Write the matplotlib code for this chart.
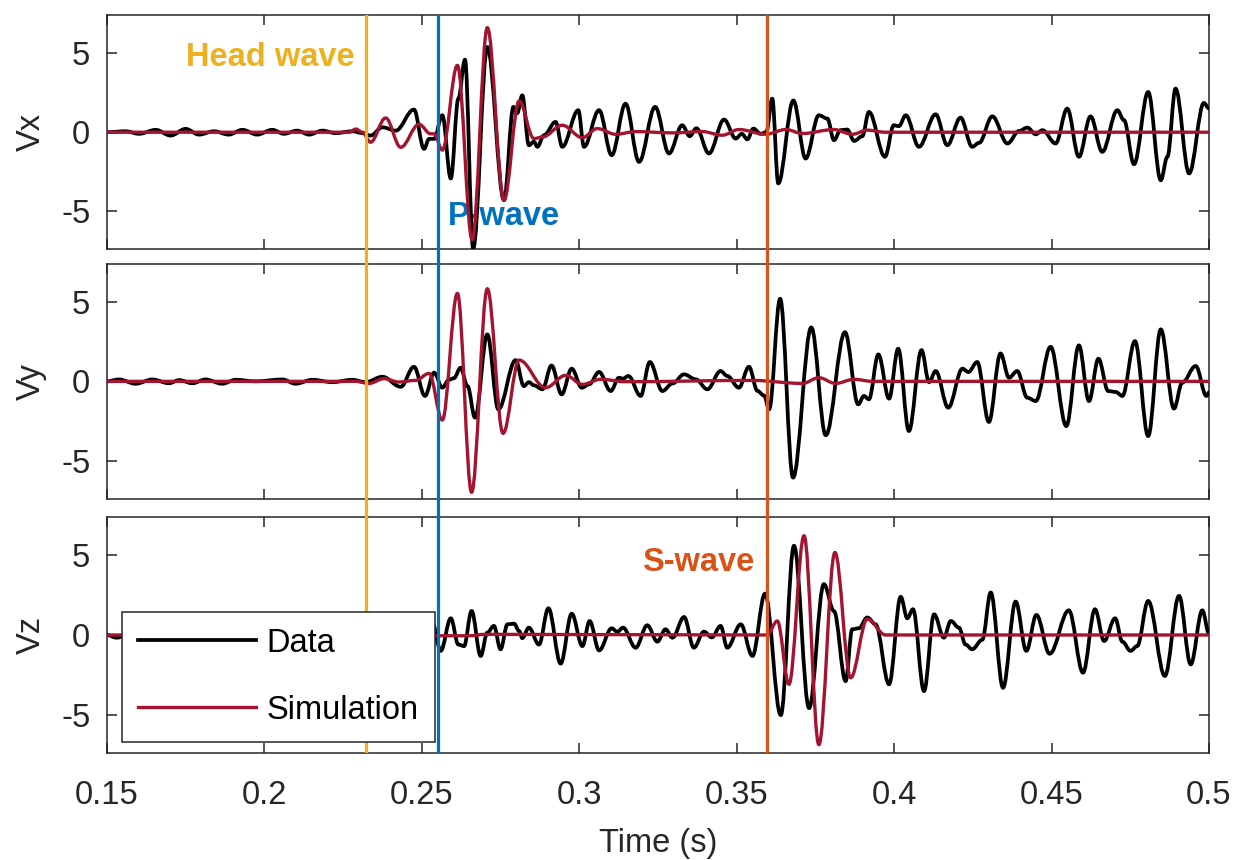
import matplotlib
matplotlib.use("Agg")
import matplotlib.pyplot as plt
from matplotlib.path import Path
from matplotlib.patches import PathPatch
from matplotlib.lines import Line2D
from matplotlib import transforms

plt.rcParams['font.family'] = ['Liberation Sans', 'DejaVu Sans']
plt.rcParams['axes.unicode_minus'] = False

# picked extrema (time in s, velocity) of each trace
vx_data_t = [0.1500, 0.1559, 0.1602, 0.1655, 0.1702, 0.1750, 0.1792, 0.1840, 0.1887, 0.1930,
             0.1977, 0.2025, 0.2062, 0.2104, 0.2142, 0.2184, 0.2226, 0.2279, 0.2311, 0.2337,
             0.2375, 0.2417, 0.2475, 0.2507, 0.2523, 0.2539, 0.2565, 0.2592, 0.2616, 0.2637,
             0.2663, 0.2708, 0.2761, 0.2791, 0.2803, 0.2819, 0.2840, 0.2856, 0.2867, 0.2888,
             0.2925, 0.2946, 0.2997, 0.3015, 0.3063, 0.3103, 0.3147, 0.3190, 0.3241, 0.3285,
             0.3327, 0.3351, 0.3372, 0.3412, 0.3460, 0.3497, 0.3516, 0.3534, 0.3553, 0.3576,
             0.3594, 0.3613, 0.3632, 0.3680, 0.3719, 0.3761, 0.3788, 0.3809, 0.3830, 0.3851,
             0.3873, 0.3899, 0.3920, 0.3971, 0.3999, 0.4015, 0.4037, 0.4079, 0.4132, 0.4169,
             0.4211, 0.4248, 0.4270, 0.4312, 0.4360, 0.4397, 0.4423, 0.4450, 0.4471, 0.4513,
             0.4550, 0.4587, 0.4624, 0.4661, 0.4709, 0.4730, 0.4762, 0.4807, 0.4847, 0.4868,
             0.4894, 0.4937, 0.4984, 0.5000]
vx_data_v = [0.00, 0.06, -0.10, 0.15, -0.21, 0.21, -0.15, 0.06, -0.15, 0.15,
             -0.15, 0.15, -0.10, 0.10, -0.15, 0.10, -0.06, 0.06, -0.05, -0.21,
             0.31, 0.10, 1.43, -1.05, -0.42, -0.42, 1.07, -2.92, 2.12, 4.58,
             -7.33, 5.38, -4.29, 1.60, 1.20, 2.33, -0.82, -0.60, -0.92, -0.19,
             0.65, -0.92, 1.39, -0.92, 1.39, -1.45, 1.80, -1.87, 1.60, -1.34,
             0.44, -0.25, 0.25, -1.34, 0.80, -0.40, -0.10, -0.45, 0.23, -0.10,
             0.00, 2.12, -3.23, 2.00, -1.66, 1.07, 0.86, -0.50, 0.13, 0.17,
             -0.55, -0.25, 1.28, -1.55, 0.44, 0.38, 1.07, -0.92, 1.13, -0.82,
             0.92, -0.92, -0.67, 1.00, -0.71, 0.08, 0.29, -0.13, 0.13, -0.71,
             1.49, -1.55, 1.00, -1.24, 1.39, 0.76, -2.02, 2.54, -3.03, -1.55,
             2.75, -2.60, 1.85, 1.50]
vx_sim_t = [0.1500, 0.2270, 0.2290, 0.2311, 0.2337, 0.2385, 0.2433, 0.2491, 0.2528, 0.2539,
            0.2565, 0.2613, 0.2660, 0.2708, 0.2761, 0.2809, 0.2856, 0.2883, 0.2946, 0.3010,
            0.3057, 0.3116, 0.3179, 0.3296, 0.3391, 0.3454, 0.3507, 0.3592, 0.3656, 0.3709,
            0.3809, 0.3867, 0.3915, 0.3973, 0.5000]
vx_sim_v = [0.00, 0.00, 0.20, 0.00, -0.63, 0.90, -0.95, 0.50, -0.10, -0.10,
            -1.13, 4.22, -6.80, 6.60, -4.29, 1.97, -0.40, -0.30, 0.44, -0.34,
            0.23, -0.13, 0.04, -0.04, 0.04, -0.19, 0.17, -0.13, 0.17, -0.08,
            0.17, -0.13, 0.13, 0.00, 0.00]

vy_data_t = [0.1500, 0.1538, 0.1591, 0.1644, 0.1697, 0.1729, 0.1771, 0.1813, 0.1866, 0.1909,
             0.1972, 0.2057, 0.2099, 0.2152, 0.2216, 0.2279, 0.2321, 0.2375, 0.2433, 0.2475,
             0.2510, 0.2539, 0.2565, 0.2586, 0.2602, 0.2623, 0.2645, 0.2669, 0.2708, 0.2743,
             0.2798, 0.2824, 0.2840, 0.2856, 0.2883, 0.2912, 0.2944, 0.2976, 0.3008, 0.3031,
             0.3063, 0.3100, 0.3126, 0.3139, 0.3156, 0.3195, 0.3224, 0.3264, 0.3296, 0.3333,
             0.3370, 0.3407, 0.3449, 0.3470, 0.3507, 0.3539, 0.3566, 0.3587, 0.3603, 0.3638,
             0.3679, 0.3737, 0.3783, 0.3844, 0.3886, 0.3904, 0.3920, 0.3950, 0.3984, 0.4013,
             0.4047, 0.4087, 0.4111, 0.4132, 0.4172, 0.4217, 0.4236, 0.4264, 0.4301, 0.4338,
             0.4365, 0.4391, 0.4423, 0.4450, 0.4497, 0.4547, 0.4587, 0.4619, 0.4649, 0.4680,
             0.4704, 0.4725, 0.4765, 0.4807, 0.4847, 0.4889, 0.4915, 0.4958, 0.4992, 0.5000]
vy_data_v = [0.00, 0.12, -0.15, 0.12, -0.12, 0.08, -0.12, 0.12, -0.15, 0.10,
             0.00, 0.12, -0.15, 0.10, -0.05, 0.10, -0.05, 0.29, -0.34, 0.92,
             -0.92, 0.55, -0.40, 0.10, 0.20, 0.86, -0.30, -2.29, 2.96, -1.76,
             1.34, -0.30, -0.05, -0.25, -0.50, 1.00, -0.82, 0.80, -0.40, -0.19,
             0.59, -0.61, 0.23, 0.17, 0.34, -0.92, 1.22, -0.61, -0.13, 0.44,
             0.13, -0.50, 0.65, 0.34, -0.40, 0.92, -0.60, -0.90, -1.76, 5.21,
             -6.07, 3.40, -3.40, 3.10, -1.45, -0.92, -1.13, 1.70, -1.09, 2.06,
             -3.13, 1.97, -0.05, 0.65, -1.66, 0.80, 0.59, 1.22, -2.56, 1.76,
             0.23, 0.65, -1.03, -1.24, 2.18, -2.82, 2.27, -1.24, 1.43, -0.61,
             -0.67, -0.92, 2.54, -3.45, 3.28, -1.72, -0.08, 0.97, -0.92, -0.70]
vy_sim_t = [0.1500, 0.2290, 0.2332, 0.2380, 0.2427, 0.2480, 0.2523, 0.2565, 0.2613, 0.2658,
            0.2708, 0.2758, 0.2809, 0.2893, 0.2957, 0.3010, 0.3068, 0.3147, 0.3550, 0.3709,
            0.3761, 0.3814, 0.3873, 0.3931, 0.5000]
vy_sim_v = [0.00, 0.00, -0.13, 0.17, -0.04, 0.06, 0.50, -2.44, 5.55, -7.00,
            5.84, -3.28, 1.34, -0.40, 0.38, -0.19, 0.13, -0.02, 0.06, -0.13,
            0.23, -0.13, 0.13, 0.00, 0.00]

vz_data_t = [0.1500, 0.1530, 0.1580, 0.1630, 0.1700, 0.1800, 0.1900, 0.2000, 0.2100, 0.2200,
             0.2300, 0.2375, 0.2430, 0.2475, 0.2507, 0.2533, 0.2560, 0.2592, 0.2616, 0.2634,
             0.2658, 0.2687, 0.2708, 0.2729, 0.2750, 0.2772, 0.2793, 0.2809, 0.2819, 0.2840,
             0.2872, 0.2902, 0.2941, 0.2976, 0.3010, 0.3033, 0.3063, 0.3103, 0.3121, 0.3139,
             0.3179, 0.3216, 0.3248, 0.3274, 0.3296, 0.3333, 0.3364, 0.3396, 0.3421, 0.3449,
             0.3470, 0.3513, 0.3550, 0.3590, 0.3640, 0.3682, 0.3730, 0.3777, 0.3809, 0.3846,
             0.3867, 0.3888, 0.3915, 0.3941, 0.3984, 0.4021, 0.4042, 0.4060, 0.4095, 0.4127,
             0.4158, 0.4180, 0.4206, 0.4227, 0.4248, 0.4280, 0.4307, 0.4346, 0.4386, 0.4420,
             0.4452, 0.4494, 0.4555, 0.4600, 0.4638, 0.4667, 0.4702, 0.4725, 0.4751, 0.4772,
             0.4807, 0.4860, 0.4905, 0.4942, 0.4979, 0.5000]
vz_data_v = [0.00, -0.17, 0.10, -0.10, 0.10, -0.10, 0.10, -0.10, 0.10, -0.10,
             0.10, 0.30, -0.40, 0.80, -0.60, 0.80, -1.00, 1.05, -0.60, -0.70,
             1.51, -1.32, 0.15, 0.57, -0.90, 0.67, 0.71, 0.25, -0.20, 0.46,
             -0.60, 1.68, -1.80, 1.34, -0.70, 0.88, -0.97, 0.42, 0.20, 0.46,
             -0.80, 0.61, -0.42, 0.36, -0.17, 1.13, -0.80, 0.21, -0.15, 0.57,
             -0.80, 0.67, -1.32, 2.60, -5.04, 5.61, -4.60, 3.20, 1.50, -2.90,
             0.36, 0.42, 1.10, 0.67, -3.10, 2.40, 1.05, 1.62, -3.53, 1.30,
             -0.17, 0.88, 0.46, -0.60, -0.90, -0.30, 2.67, -3.32, 2.10, -1.00,
             1.26, -1.18, 1.55, -2.37, 1.62, -0.38, 1.05, -0.42, -1.00, -0.70,
             2.14, -2.58, 2.46, -1.85, 1.55, 0.10]
vz_sim_t = [0.1500, 0.2650, 0.2700, 0.3597, 0.3629, 0.3666, 0.3714, 0.3761, 0.3812, 0.3862,
            0.3915, 0.3973, 0.5000]
vz_sim_v = [0.00, -0.05, 0.04, 0.00, 0.88, -3.10, 6.24, -6.90, 5.19, -2.69,
            1.00, 0.00, 0.00]

# arrival picks
pick_names = ['Head wave', 'P-wave', 'S-wave']
pick_times = [0.2322, 0.2552, 0.3597]
pick_colors = ['#EDB120', '#0072BD', '#D95319']

components = ['Vx', 'Vy', 'Vz']
data_t = [vx_data_t, vy_data_t, vz_data_t]
data_v = [vx_data_v, vy_data_v, vz_data_v]
sim_t = [vx_sim_t, vy_sim_t, vz_sim_t]
sim_v = [vx_sim_v, vy_sim_v, vz_sim_v]

xticks = [0.15, 0.2, 0.25, 0.3, 0.35, 0.4, 0.45, 0.5]
xticklabels = ['0.15', '0.2', '0.25', '0.3', '0.35', '0.4', '0.45', '0.5']

DATA_C = 'black'
SIM_C = '#A2142F'
AX_C = '#262626'
FS = 23.5


def draw_trace(ax, t, v, color, lw, z):
    # smooth curve through the picked extrema (flat tangent at each pick)
    verts = [(t[0], v[0])]
    codes = [Path.MOVETO]
    for i in range(1, len(t)):
        h = 0.364 * (t[i] - t[i - 1])
        verts += [(t[i - 1] + h, v[i - 1]), (t[i] - h, v[i]), (t[i], v[i])]
        codes += [Path.CURVE4] * 3
    ax.add_patch(PathPatch(Path(verts, codes), fill=False, edgecolor=color,
                           lw=lw, zorder=z, capstyle='round', joinstyle='round'))


fig = plt.figure(figsize=(12.34, 8.6), dpi=100)
boxes = [[0.0867, 0.7099, 0.8930, 0.2727],
         [0.0867, 0.4201, 0.8930, 0.2729],
         [0.0867, 0.1248, 0.8930, 0.2737]]
axes = []
for k, box in enumerate(boxes):
    ax = fig.add_axes(box)
    draw_trace(ax, data_t[k], data_v[k], DATA_C, 2.7, 3)
    draw_trace(ax, sim_t[k], sim_v[k], SIM_C, 2.4, 4)
    for tp, c in zip(pick_times, pick_colors):
        ax.axvline(tp, color=c, lw=2.3, zorder=5)
    ax.set_xlim(0.15, 0.5)
    ax.set_ylim(-7.4, 7.4)
    ax.set_xticks(xticks)
    ax.set_yticks([-5, 0, 5])
    ax.set_yticklabels(['-5', '0', '5'])
    if k == 2:
        ax.set_xticklabels(xticklabels)
        ax.set_xlabel('Time (s)', fontsize=FS, color=AX_C, labelpad=12)
    else:
        ax.set_xticklabels([])
    ax.set_ylabel(components[k], fontsize=FS, color=AX_C, labelpad=10)
    ax.tick_params(direction='in', top=True, right=True, length=7, width=1.1,
                   labelsize=FS, colors=AX_C, pad=12)
    ax.tick_params(axis='x', pad=20)
    for s in ax.spines.values():
        s.set_color(AX_C)
        s.set_linewidth(1.1)
    axes.append(ax)

# carry the pick lines across the gaps between panels
for upper, lower in zip(axes[:-1], axes[1:]):
    y0 = lower.get_position().y1
    y1 = upper.get_position().y0
    tr = transforms.blended_transform_factory(upper.transData, fig.transFigure)
    for tp, c in zip(pick_times, pick_colors):
        fig.add_artist(Line2D([tp, tp], [y0, y1], transform=tr, color=c, lw=2.3))

axes[0].text(0.2288, 4.2, pick_names[0], color=pick_colors[0], fontsize=FS,
             fontweight='bold', ha='right', va='baseline', zorder=2)
axes[0].text(0.2584, -5.88, pick_names[1], color=pick_colors[1], fontsize=FS,
             fontweight='bold', ha='left', va='baseline', zorder=2)
axes[2].text(0.3556, 4.0, pick_names[2], color=pick_colors[2], fontsize=FS,
             fontweight='bold', ha='right', va='baseline', zorder=2)

handles = [Line2D([], [], color=DATA_C, lw=2.7), Line2D([], [], color=SIM_C, lw=2.4)]
leg = axes[2].legend(handles, ['Data', 'Simulation'], loc='lower left',
                     bbox_to_anchor=(0.0136, 0.045), borderaxespad=0, fontsize=FS,
                     handlelength=3.6, handletextpad=0.33, labelspacing=1.1,
                     borderpad=0.5, fancybox=False, framealpha=1, edgecolor=AX_C)
leg.get_frame().set_linewidth(1.1)
leg.set_zorder(10)

fig.savefig('out.png', dpi=100)
